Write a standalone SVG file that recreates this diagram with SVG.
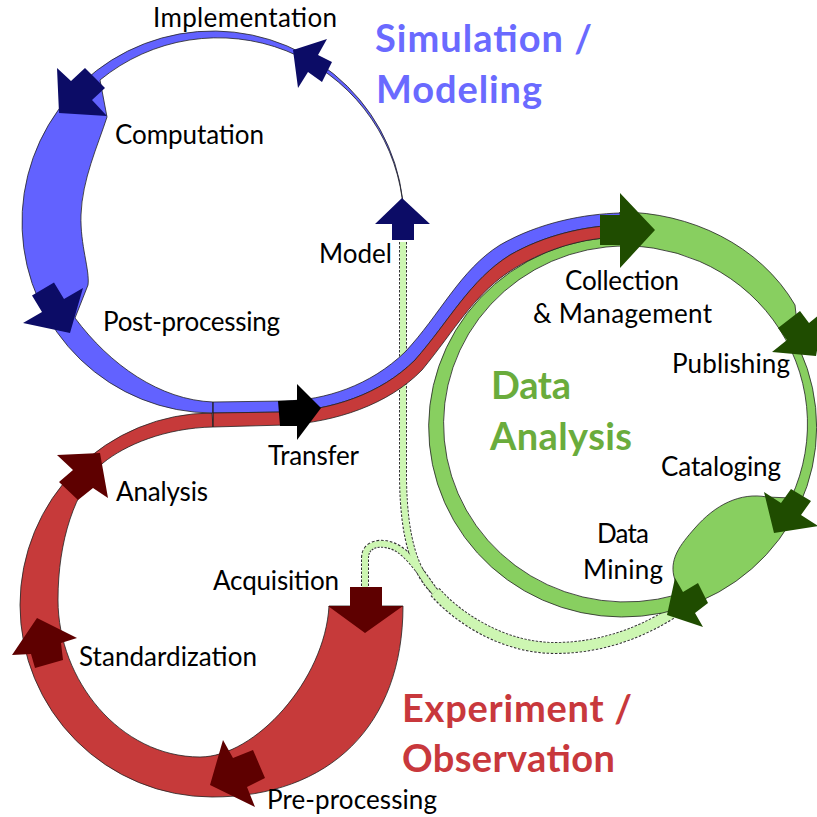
<svg xmlns="http://www.w3.org/2000/svg" width="817" height="817" viewBox="0 0 817 817">
<style>
.band{stroke:#222;stroke-width:0.8;stroke-linejoin:round}
.blue{fill:#6262ff}
.red{fill:#c63a3a}
.green{fill:#88cf60;fill-rule:evenodd}
.navy{fill:#0c0c66}
.dred{fill:#5e0000}
.dgreen{fill:#1f4c00}
.blk{fill:#000}
.lbl{font-family:Lato,"Open Sans","DejaVu Sans",sans-serif;font-size:26px;fill:#000}
.ttl{font-family:Lato,"Open Sans","DejaVu Sans",sans-serif;font-size:38px;font-weight:bold}
.lgo{fill:none;stroke:#333;stroke-dasharray:2.5 1.5}
.lgi{fill:none;stroke:#cdf6b2}
</style>
<rect width="817" height="817" fill="#fff"/>

<g id="connectors">
  <path class="lgo" stroke-width="8" d="M 403 242 L 403 480 C 404 540 415 572 435 592"/>
  <path class="lgo" stroke-width="8" d="M 365 590 L 365 558 C 365 540 390 540 404 553 C 418 566 426 580 435 592"/>
  <path class="lgo" stroke-width="12" d="M 435 592 C 460 620 505 648 555 648 C 605 648 645 630 672 613"/>
  <path class="lgi" stroke-width="6" d="M 403 242 L 403 480 C 404 540 415 572 435 592"/>
  <path class="lgi" stroke-width="6" d="M 365 590 L 365 558 C 365 540 390 540 404 553 C 418 566 426 580 435 592"/>
  <path class="lgi" stroke-width="10" d="M 435 592 C 460 620 505 648 555 648 C 605 648 645 630 672 613"/>
</g>

<g id="data-analysis">
  <path class="band green" d="M 620 212 C 690 212 760 245 795 305 L 800 350 A 194 190 0 1 1 605 237.8 L 620 212 Z M 606 247 A 182 178 0 0 1 791 498 L 767 497 C 740 492 715 505 695 528 C 680 545 668 560 675 580 L 676 595 A 182 178 0 1 1 606 247 Z"/>
  <polygon class="dgreen" points="816,356 772,352 787,340 778,328 800,311 809,323 824,311"/>
  <polygon class="dgreen" points="774,533 764,492 781,503 791,489 811,501 801,515 818,526"/>
  <polygon class="dgreen" points="667,615 675,578 683,592 698,583 708,603 695,613 703,627"/>
  <text class="ttl" x="491" y="399" fill="#6aac3c" textLength="80" lengthAdjust="spacing">Data</text>
  <text class="ttl" x="490" y="450" fill="#6aac3c" textLength="142" lengthAdjust="spacing">Analysis</text>
  <text class="lbl" x="565" y="290" textLength="114" lengthAdjust="spacing">Collection</text>
  <text class="lbl" x="533" y="323" textLength="179" lengthAdjust="spacing">&amp; Management</text>
  <text class="lbl" x="672" y="373" textLength="118" lengthAdjust="spacing">Publishing</text>
  <text class="lbl" x="661" y="476" textLength="120" lengthAdjust="spacing">Cataloging</text>
  <text class="lbl" x="597" y="543" textLength="52" lengthAdjust="spacing">Data</text>
  <text class="lbl" x="583" y="579" textLength="80" lengthAdjust="spacing">Mining</text>
</g>

<g id="experiment">
  <path class="band red" d="M 403 606 C 403 725 330 797 212 797 A 192 192 0 0 1 20 605 A 192 192 0 0 1 212 413 L 213 427 C 165 428 125 445 103 463 C 75 490 58 540 58 600 C 58 680 120 757 200 757 C 255 757 325 680 329 606 Z"/>
  <polygon class="dred" points="350,587 382,587 382,606 403,606 365,633 328,606 350,606"/>
  <polygon class="dred" points="223,740 233,758 253,750 265,778 247,787 255,807 210,785"/>
  <polygon class="dred" points="37,618 77,638 61,643 63,660 35,668 31,654 12,655"/>
  <polygon class="dred" points="57,455 100,453 108,498 93,488 78,500 59,482 73,470"/>
  <text class="ttl" x="402" y="722" fill="#c8383c" textLength="230" lengthAdjust="spacing">Experiment /</text>
  <text class="ttl" x="402" y="772" fill="#c8383c" textLength="213" lengthAdjust="spacing">Observation</text>
  <text class="lbl" x="116" y="501" textLength="92" lengthAdjust="spacing">Analysis</text>
  <text class="lbl" x="213" y="590" textLength="126" lengthAdjust="spacing">Acquisition</text>
  <text class="lbl" x="79" y="666" textLength="178" lengthAdjust="spacing">Standardization</text>
  <text class="lbl" x="267" y="809" textLength="170" lengthAdjust="spacing">Pre-processing</text>
</g>

<g id="simulation">
  <path class="band blue" d="M 402.6 199 A 191 191 0 1 0 213 413 L 213 402 C 160 400 110 365 75 318 L 88 285 C 90 270 80 245 81 215 C 82 180 98 145 107 117 L 100 80 A 186 186 0 0 1 402.3 199 Z"/>
  <polygon class="navy" points="402,198 430,224 414,224 414,240 392,240 392,224 375,224"/>
  <polygon class="navy" points="293,50 327,39 318,55 332,62 322,82 308,72 298,88"/>
  <polygon class="navy" points="57,68 71,81 85,68 105,88 92,100 107,116 59,113"/>
  <polygon class="navy" points="70,333 83,288 64,299 54,282.5 32,295.5 42,312 23,323"/>
  <text class="ttl" x="375" y="52" fill="#6a6aff" textLength="217" lengthAdjust="spacing">Simulation /</text>
  <text class="ttl" x="376" y="103" fill="#6a6aff" textLength="166" lengthAdjust="spacing">Modeling</text>
  <text class="lbl" x="153" y="27" textLength="184" lengthAdjust="spacing">Implementation</text>
  <text class="lbl" x="115" y="144" textLength="149" lengthAdjust="spacing">Computation</text>
  <text class="lbl" x="319" y="263" textLength="73" lengthAdjust="spacing">Model</text>
  <text class="lbl" x="103" y="331" textLength="177" lengthAdjust="spacing">Post-processing</text>
</g>

<g id="transfer">
  <path class="band blue" d="M 213 402 L 285 401 C 325 400 370 386 405 352 C 440 315 460 270 500 245 C 540 222 585 214 620 213 L 620 225 C 585 226 545 235 510 255 C 470 280 450 320 415 360 C 380 395 330 410 285 412 L 213 413 Z"/>
  <path class="band red" d="M 213 413 L 285 412 C 330 410 380 395 415 360 C 450 320 470 280 510 255 C 545 235 585 226 620 225 L 620 237 C 585 238 550 247 515 268 C 475 292 455 330 422 370 C 388 405 335 422 285 425 L 213 427 Z"/>
  <line x1="213" y1="402" x2="213" y2="427" stroke="#222" stroke-width="0.8"/>
  <polygon class="blk" points="278,401 297,400 297,384 321,408 297,440 297,426 280,426"/>
  <polygon class="dgreen" points="600,215 620,215 620,193 655,230 620,268 620,245 600,245"/>
  <text class="lbl" x="268" y="465" textLength="91" lengthAdjust="spacing">Transfer</text>
</g>
</svg>
